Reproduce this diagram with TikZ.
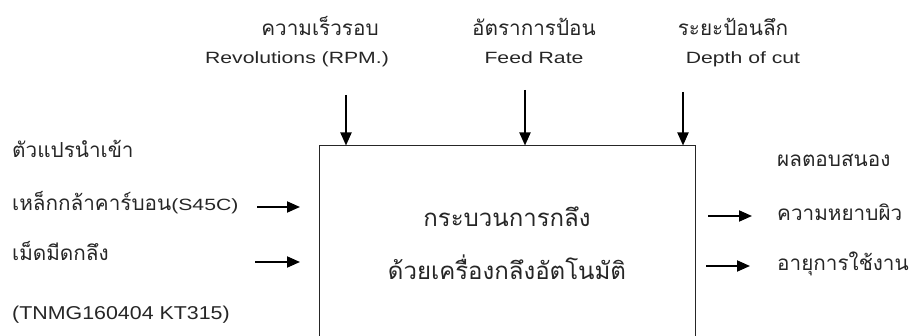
\documentclass[tikz,border=0pt]{standalone}
\usepackage{fontspec}
\setmainfont{Liberation Sans}[FakeStretch=1.3]
\newfontfamily\codefont{Liberation Sans}[FakeStretch=1.15]
\newfontfamily\thaifont[Script=Thai]{Loma}
\usetikzlibrary{arrows.meta,positioning}
\definecolor{inkgray}{HTML}{262626}
\newcommand{\enfont}{\normalfont\fontsize{16.3}{20}\selectfont}

\begin{document}
\begin{tikzpicture}[x=1pt,y=-1pt,
  thlabel/.style={anchor=base,inner sep=0pt,text=inkgray,
    font=\thaifont\fontsize{20.7}{24}\selectfont},
  enlabel/.style={anchor=base,inner sep=0pt,text=inkgray,font=\enfont},
  process/.style={draw=inkgray,line width=1pt,minimum width=376pt,
    minimum height=194pt,align=center,text=inkgray,
    font=\thaifont\fontsize{24}{53}\selectfont},
  arr/.style={-{Triangle[length=13pt,width=11pt]},line width=1.9pt}
]
\useasboundingbox (0,0) rectangle (909,336);
\clip (0,0) rectangle (909,336);

% process box (runs off the bottom)
\node[process] (lathe) at (507,243)
  {กระบวนการกลึง\\ด้วยเครื่องกลึงอัตโนมัติ};

% controls on top
\node[thlabel] (speedth) at (320,36) {ความเร็วรอบ};
\node[enlabel] (speed) at (297,64) {Revolutions (RPM.)};
\node[thlabel] (feedth) at (534,36) {อัตราการป้อน};
\node[enlabel] (feed) at (534,64) {Feed Rate};
\node[thlabel] (depthth) at (733,36) {ระยะป้อนลึก};
\node[enlabel] (depth) at (743,64) {Depth of cut};

\coordinate (speedtail) at (346,95);
\coordinate (feedtail) at (525,90);
\coordinate (depthtail) at (683,92);
\draw[arr] (speedtail) -- (speedtail |- lathe.north);
\draw[arr] (feedtail) -- (feedtail |- lathe.north);
\draw[arr] (depthtail) -- (depthtail |- lathe.north);

% inputs
\node[thlabel,anchor=base west] (inhead) at (12,158) {ตัวแปรนำเข้า};
\node[thlabel,anchor=base west] (steel) at (12,211)
  {เหล็กกล้าคาร์บอน{\enfont(S45C)}};
\node[thlabel,anchor=base west] (insert) at (12,261) {เม็ดมีดกลึง};
\node[enlabel,anchor=base west,font=\codefont\fontsize{18.6}{22}\selectfont]
  (insertcode) at (12,319) {(TNMG160404 KT315)};

\coordinate (steeltail) at (257,207);
\coordinate (steelhead) at (300,207);
\coordinate (inserttail) at (255,262);
\coordinate (inserthead) at (300,262);
\draw[arr] (steeltail) -- (steelhead);
\draw[arr] (inserttail) -- (inserthead);

% responses
\node[thlabel,anchor=base west] (outhead) at (777,167) {ผลตอบสนอง};
\node[thlabel,anchor=base west] (rough) at (777,221) {ความหยาบผิว};
\node[thlabel,anchor=base west] (life) at (777,271) {อายุการใช้งาน};

\coordinate (roughtail) at (708,216);
\coordinate (roughhead) at (752,216);
\coordinate (lifetail) at (706,266);
\coordinate (lifehead) at (750,266);
\draw[arr] (roughtail) -- (roughhead);
\draw[arr] (lifetail) -- (lifehead);
\end{tikzpicture}
\end{document}
